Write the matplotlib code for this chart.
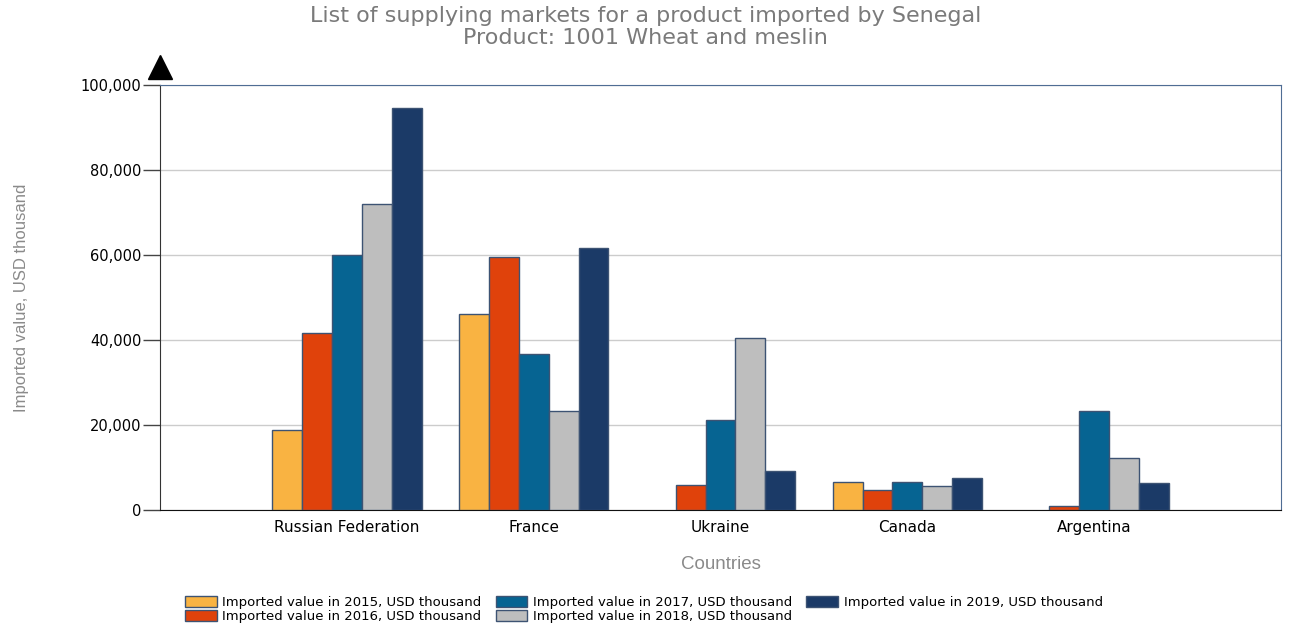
import matplotlib.pyplot as plt
import numpy as np
from matplotlib.ticker import FuncFormatter

# Data (USD thousand)
countries = ["Russian Federation", "France", "Ukraine", "Canada", "Argentina"]
years = ["2015", "2016", "2017", "2018", "2019"]
v2015 = [18900, 46200, 0, 6700, 0]
v2016 = [41700, 59600, 5900, 4800, 900]
v2017 = [60100, 36600, 21200, 6700, 23300]
v2018 = [71900, 23300, 40400, 5600, 12200]
v2019 = [94600, 61700, 9100, 7500, 6300]
series = [v2015, v2016, v2017, v2018, v2019]
colors = ["#F9B342", "#E0420B", "#066492", "#BEBEBE", "#1B3A67"]

fig = plt.figure(figsize=(12.91, 6.31), dpi=100)
ax = fig.add_axes([0.1239, 0.1918, 0.8684, 0.6735])

x = np.arange(1, len(countries) + 1)
width = 0.16
for i, (vals, col, yr) in enumerate(zip(series, colors, years)):
    # zero values are not drawn in the original
    h = [v if v > 0 else np.nan for v in vals]
    ax.bar(x + (i - 2) * width, h, width, color=col, edgecolor="#3d5373",
           linewidth=1.0, label=f"Imported value in {yr}, USD thousand", zorder=3)

ax.set_xlim(0, len(countries) + 1)
ax.set_ylim(0, 100000)
ax.set_yticks(np.arange(0, 100001, 20000))
ax.yaxis.set_major_formatter(FuncFormatter(lambda v, p: f"{int(v):,}"))
ax.set_xticks(x)
ax.set_xticklabels(countries, fontsize=11, family="DejaVu Sans")
for lbl in ax.get_yticklabels():
    lbl.set_family("DejaVu Sans")
    lbl.set_fontsize(10.5)
ax.tick_params(axis="x", length=0, pad=7)
ax.tick_params(axis="y", length=12, width=1, color="#444444", pad=1.5)
ax.grid(axis="y", color="#cccccc", linewidth=1, zorder=0)

ax.spines["left"].set_color("#333333")
ax.spines["bottom"].set_color("#111111")
ax.spines["top"].set_color("#4f6d94")
ax.spines["right"].set_color("#4f6d94")

# arrow head on the y axis
ax.plot([0], [1.042], marker="^", markersize=17, color="black",
        transform=ax.transAxes, clip_on=False)

ax.set_xlabel("Countries", fontsize=13.5, color="#8a8a8a", labelpad=15,
              family="Liberation Sans")
ax.set_ylabel("Imported value, USD thousand", fontsize=12, color="#8a8a8a",
              family="Liberation Sans")
ax.yaxis.set_label_coords(-0.117, 0.5)

fig.suptitle("List of supplying markets for a product imported by Senegal\nProduct: 1001 Wheat and meslin",
             fontsize=16, color="#7a7a7a", y=0.99, linespacing=1.12)

ax.legend(loc="upper left", bbox_to_anchor=(0.0175, -0.19), ncol=3, frameon=False,
          fontsize=9.5, handlelength=2.4, handleheight=0.9, columnspacing=1.05,
          labelspacing=0.1, handletextpad=0.45, borderaxespad=0)

fig.savefig("out.png", dpi=100)
